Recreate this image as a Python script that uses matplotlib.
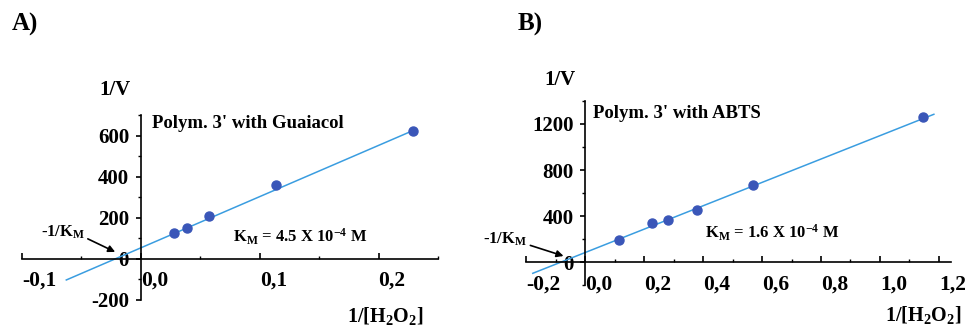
import matplotlib
matplotlib.use("Agg")
import matplotlib.pyplot as plt
from matplotlib.ticker import MultipleLocator

plt.rcParams['font.family'] = ['Liberation Serif', 'DejaVu Serif']
plt.rcParams['font.weight'] = 'bold'
plt.rcParams['mathtext.fontset'] = 'custom'
plt.rcParams['mathtext.rm'] = 'Liberation Serif:bold'
plt.rcParams['mathtext.bf'] = 'Liberation Serif:bold'
plt.rcParams['mathtext.default'] = 'bf'

# Panel A: Polym. 3' with Guaiacol (Lineweaver-Burk)
a_x = [0.028, 0.0386, 0.057, 0.114, 0.229]
a_y = [124, 148, 209, 360, 626]
a_fit_x = [-0.0627, 0.2316]
a_fit_y = [-104, 633]
a_xticks = [-0.1, 0.0, 0.1, 0.2]
a_xlabels = ['-0,1', '0,0', '0,1', '0,2']
a_yticks = [-200, 0, 200, 400, 600]

# Panel B: Polym. 3' with ABTS
b_x = [0.113, 0.228, 0.281, 0.378, 0.570, 1.146]
b_y = [194, 344, 367, 454, 671, 1258]
b_fit_x = [-0.178, 1.183]
b_fit_y = [-95, 1284]
b_xticks = [-0.2, 0.0, 0.2, 0.4, 0.6, 0.8, 1.0, 1.2]
b_xlabels = ['-0,2', '0,0', '0,2', '0,4', '0,6', '0,8', '1,0', '1,2']
b_yticks = [0, 400, 800, 1200]

dot_color = '#3a56b8'
line_color = '#3a9de0'

fig = plt.figure(figsize=(9.68, 3.27), dpi=100)
axA = fig.add_axes([0.0227, 0.0838, 0.4298, 0.5630])
axB = fig.add_axes([0.5437, 0.1272, 0.4384, 0.5642])


def style_axes(ax, xlim, ylim, xticks, xlabels, yticks, xminor, yminor):
    ax.set_xlim(*xlim)
    ax.set_ylim(*ylim)
    for s in ['top', 'right']:
        ax.spines[s].set_visible(False)
    ax.spines['left'].set_position(('data', 0))
    ax.spines['bottom'].set_position(('data', 0))
    for s in ['left', 'bottom']:
        ax.spines[s].set_linewidth(1.2)
    ax.set_xticks(xticks, labels=xlabels, ha='left')
    ax.set_yticks(yticks, labels=[str(v) for v in yticks])
    ax.xaxis.set_minor_locator(MultipleLocator(xminor))
    ax.yaxis.set_minor_locator(MultipleLocator(yminor))
    ax.tick_params(axis='x', which='major', direction='in', length=4, width=1.2,
                   labelsize=15.5, pad=8.5)
    ax.tick_params(axis='x', which='minor', direction='in', length=2.5, width=1.0)
    ax.tick_params(axis='y', which='major', direction='out', length=3.5, width=1.2,
                   labelsize=15, pad=5)
    ax.tick_params(axis='y', which='minor', direction='out', length=2.5, width=1.0)
    ax.patch.set_alpha(0)


# ---- panel A
axA.plot(a_fit_x, a_fit_y, color=line_color, lw=1.1, zorder=2)
axA.plot(a_x, a_y, 'o', color=dot_color, ms=6.5, zorder=3)
style_axes(axA, (-0.1, 0.25), (-200, 700), a_xticks, a_xlabels, a_yticks, 0.05, 100)
axA.text(0.0092, 662, "Polym. 3' with Guaiacol", fontsize=13.5, va='center', ha='left')
axA.text(0.0778, 108, r"K$_{M}$ = 4.5 X 10$^{-4}$ M", fontsize=12, va='center', ha='left')
axA.annotate(r"-1/K$_{M}$", xy=(-0.0216, 33), xytext=(-0.0841, 129),
             fontsize=12, va='center', ha='left',
             arrowprops=dict(arrowstyle='-|>', color='black', lw=1.2,
                             mutation_scale=10, shrinkA=0, shrinkB=0,
                             relpos=(1.0, 0.2)))

# ---- panel B
axB.plot(b_fit_x, b_fit_y, color=line_color, lw=1.1, zorder=2)
axB.plot(b_x, b_y, 'o', color=dot_color, ms=6.5, zorder=3)
style_axes(axB, (-0.2, 1.24), (-200, 1400), b_xticks, b_xlabels, b_yticks, 0.1, 200)
axB.text(0.0258, 1292, "Polym. 3' with ABTS", fontsize=13.5, va='center', ha='left')
axB.text(0.4076, 252, r"K$_{M}$ = 1.6 X 10$^{-4}$ M", fontsize=12, va='center', ha='left')
axB.annotate(r"-1/K$_{M}$", xy=(-0.0737, 55), xytext=(-0.3455, 200),
             fontsize=12, va='center', ha='left', annotation_clip=False,
             arrowprops=dict(arrowstyle='-|>', color='black', lw=1.2,
                             mutation_scale=10, shrinkA=0, shrinkB=0,
                             relpos=(1.0, 0.2)))

# axis titles and panel letters
fig.text(0.1188, 0.7248, "1/V", fontsize=15, ha='center', va='center')
fig.text(0.5785, 0.7554, "1/V", fontsize=15, ha='center', va='center')
fig.text(0.3975, 0.0336, r"1/[H$_{2}$O$_{2}$]", fontsize=14.5, ha='center', va='center')
fig.text(0.9537, 0.0367, r"1/[H$_{2}$O$_{2}$]", fontsize=14.5, ha='center', va='center')
fig.text(0.0258, 0.9266, "A)", fontsize=18, ha='center', va='center')
fig.text(0.5482, 0.9266, "B)", fontsize=18, ha='center', va='center')

fig.savefig("out.png", dpi=100)
